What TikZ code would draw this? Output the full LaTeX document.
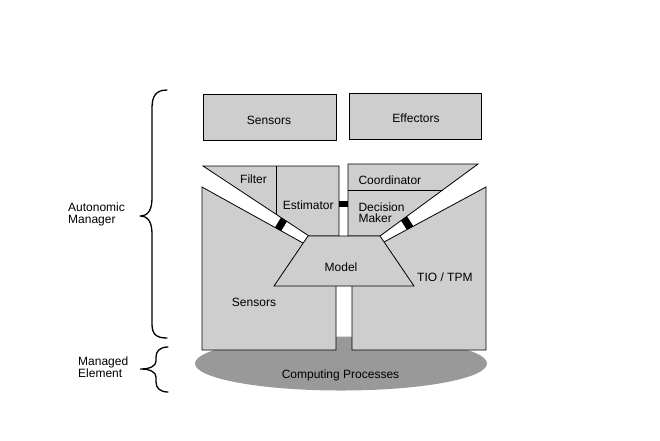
\documentclass[tikz,border=0pt]{standalone}
\usepackage{fontspec}
\setmainfont{Liberation Sans}
\definecolor{boxgray}{RGB}{206,206,206}
\definecolor{procgray}{RGB}{153,153,153}
\begin{document}
\begin{tikzpicture}[x=1pt,y=-1pt,
  blk/.style={draw=black, line width=0.8pt, fill=boxgray, line join=miter},
  blackmark/.style={fill=black},
  lbl/.style={inner sep=0pt, anchor=base, font=\fontsize{12}{12}\selectfont},
  lbll/.style={inner sep=0pt, anchor=base west, font=\fontsize{12}{12}\selectfont},
  sidel/.style={inner sep=0pt, anchor=west, align=left, font=\fontsize{12}{12}\selectfont},
  brace/.style={draw=black, line width=1.3pt, line cap=round, line join=round}]
\useasboundingbox (0,0) rectangle (660,440);
\fill[white] (0,0) rectangle (660,440);
% managed element
\fill[procgray] (341,363.5) ellipse [x radius=146, y radius=27];
% lower polygons
\draw[blk] (202,187) -- (303,243) -- (336,243) -- (336,350) -- (202,350) -- cycle;
\draw[blk] (486,187) -- (384,242) -- (352,242) -- (352,350) -- (486,350) -- cycle;
% upper polygons
\draw[blk] (203,166) -- (339,166) -- (339,236) -- (309,236) -- cycle;
\draw[line width=0.8pt] (276,166) -- (276,214.2);
\draw[blk] (348,164) -- (478,164) -- (380,236) -- (348,236) -- cycle;
\draw[line width=0.8pt] (348,190) -- (442.6,190);
% model
\draw[blk] (308,236) -- (380,236) -- (414,286) -- (274,286) -- cycle;
% markers
\fill[blackmark] (281,217.5) -- (287,221.4) -- (281.2,230.9) -- (275,227.4) -- cycle;
\fill[blackmark] (401,220.6) -- (407,216.2) -- (413.3,226.2) -- (406.8,229.7) -- cycle;
\fill[blackmark] (339,201) rectangle (348,207);
% top boxes
\node[blk, minimum width=133pt, minimum height=46pt, inner sep=0pt] (sensbox) at (269.5,117) {};
\node[blk, minimum width=132pt, minimum height=46pt, inner sep=0pt] (effbox) at (415,116.3) {};
\node[lbl] (senstxt) at (269,124) {Sensors};
\node[lbl] (efftxt) at (416,122.7) {Effectors};
% labels
\node[lbl] (filter) at (253.5,183) {Filter};
\node[lbl] (estim) at (308.3,209) {Estimator};
\node[lbll] (coord) at (358.3,184) {Coordinator};
\node[lbll] (dec) at (358.3,211) {Decision};
\node[lbll] (maker) at (358.3,222.5) {Maker};
\node[lbl] (model) at (341,271) {Model};
\node[lbll] (tio) at (417,281) {TIO / TPM};
\node[lbl] (sens2) at (254,306) {Sensors};
\node[lbl] (comp) at (340.5,378.5) {Computing Processes};
\node[sidel] (am) at (68,214) {Autonomic\\Manager};
\node[sidel] (me) at (78,367.5) {Managed\\Element};
% braces
\draw[brace] (167,90) .. controls (156,90) and (152,96) .. (152,108) -- (152,198)
  .. controls (152,210) and (148,216) .. (140,216)
  .. controls (148,216) and (152,222) .. (152,234) -- (152,324)
  .. controls (152,334) and (156,338) .. (167,338);
\draw[brace] (168,347) .. controls (160,347) and (156,351) .. (156,357) -- (156,361)
  .. controls (156,366) and (150,369) .. (140.5,369)
  .. controls (150,369) and (156,372) .. (156,377) -- (156,382)
  .. controls (156,388) and (160,392) .. (168,392);
\end{tikzpicture}
\end{document}
